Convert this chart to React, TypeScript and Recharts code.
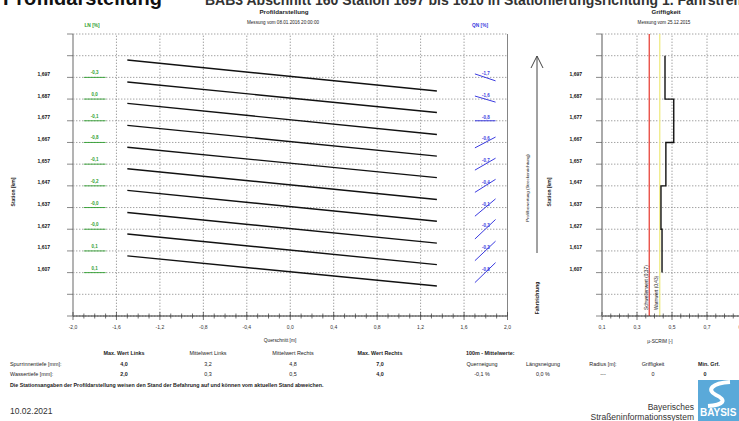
import React from 'react';
import { ComposedChart, Line, XAxis, YAxis, CartesianGrid, ReferenceLine, ReferenceDot } from 'recharts';

const FONT = '"Liberation Sans", Arial, Helvetica, sans-serif';

// ---------- data ----------
const stationLabels = ['1,697', '1,687', '1,677', '1,667', '1,657', '1,647', '1,637', '1,627', '1,617', '1,607'];
const stationRows = [11, 10, 9, 8, 7, 6, 5, 4, 3, 2];
const gridRows = [0, 1, 2, 3, 4, 5, 6, 7, 8, 9, 10, 11, 12, 13];

const crossMajor = [-2.0, -1.6, -1.2, -0.8, -0.4, 0.0, 0.4, 0.8, 1.2, 1.6, 2.0];
const crossMajorLabels = ['-2,0', '-1,6', '-1,2', '-0,8', '-0,4', '0,0', '0,4', '0,8', '1,2', '1,6', '2,0'];

// profile lines (cross section from left to right edge, height relative to station row)
const profileFromX = -1.5;
const profileToX = 1.35;
const profileLeftHeight = [0.8, 0.79, 0.8, 0.79, 0.78, 0.79, 0.79, 0.77, 0.78, 0.77];
const profileRightHeight = [-0.63, -0.62, -0.63, -0.63, -0.62, -0.63, -0.63, -0.64, -0.63, -0.62];

// LN (left) and QN (right) markers
const lnLabels = ['-0,3', '0,0', '-0,1', '-0,8', '-0,1', '-0,2', '-0,0', '-0,0', '0,1', '0,1'];
const qnLabels = ['-1,7', '-1,6', '-0,8', '-0,6', '-0,7', '-0,4', '-0,1', '-0,3', '-0,3', '-0,8'];
const qnTilt = [-0.32, -0.28, 0, 0.5, 0.55, 0.6, 0.8, 0.9, 0.9, 0.92];

// Griffigkeit
const griffMajor = [0.1, 0.3, 0.5, 0.7, 0.9];
const griffMajorLabels = ['0,1', '0,3', '0,5', '0,7', '0,9'];
const griffFrom = [12, 10, 8, 6, 4];
const griffTo = [10, 8, 6, 4, 2];
const griffValues = [0.46, 0.51, 0.465, 0.437, 0.443];
const schwellenwert = 0.37;
const warnwert = 0.43;

// table
const tableHeads = ['Max. Wert Links', 'Mittelwert Links', 'Mittelwert Rechts', 'Max. Wert Rechts'];
const spurrinnen = ['4,0', '3,2', '4,8', '7,0'];
const wassertiefe = ['2,0', '0,3', '0,5', '4,0'];
const meanHeads = ['Querneigung', 'Längsneigung', 'Radius [m]:', 'Griffigkeit'];
const meanValues = ['-0,1 %', '0,0 %', '---', '0'];

// ---------- derived ticks ----------
const crossMinor: number[] = [];
for (let i = -20; i <= 20; i++) crossMinor.push(i / 10);
const rightMinor: number[] = [];
for (let i = 0; i <= 104; i++) rightMinor.push(i / 8);
const griffMinor: number[] = [];
for (let i = 2; i <= 18; i++) griffMinor.push(i / 20);

const griffPoints: { x: number; y: number }[] = [];
griffValues.forEach((v, i) => {
  griffPoints.push({ x: v, y: griffFrom[i] });
  griffPoints.push({ x: v, y: griffTo[i] });
});

const GRID = '#8a8a8a';
const DASH = '1.4 1.6';

const majorIdx = (arr: number[], v: number) => arr.findIndex((m) => Math.abs(m - v) < 1e-6);

const CrossTick = (props: any) => {
  const { x, y, payload } = props;
  const mi = majorIdx(crossMajor, payload.value);
  const h = mi >= 0 ? 4 : 2.5;
  return (
    <g>
      <line x1={x} x2={x} y1={y - h} y2={y + h} stroke="#333" strokeWidth={0.7} />
      {mi >= 0 && (
        <text x={x} y={y + 13} textAnchor="middle" fontSize={5} fill="#333" fontFamily={FONT}>
          {crossMajorLabels[mi]}
        </text>
      )}
    </g>
  );
};

const GriffTick = (props: any) => {
  const { x, y, payload } = props;
  const mi = majorIdx(griffMajor, payload.value);
  const h = mi >= 0 ? 4 : 2.5;
  return (
    <g>
      <line x1={x} x2={x} y1={y - h} y2={y + h} stroke="#333" strokeWidth={0.7} />
      {mi >= 0 && (
        <text x={x} y={y + 13} textAnchor="middle" fontSize={5} fill="#333" fontFamily={FONT}>
          {griffMajorLabels[mi]}
        </text>
      )}
    </g>
  );
};

const makeStationTick = (gap: number) => (props: any) => {
  const { x, y, payload } = props;
  const idx = stationRows.indexOf(payload.value);
  return (
    <g>
      <line x1={x - 6} x2={x} y1={y} y2={y} stroke="#555" strokeWidth={0.7} />
      {idx >= 0 && (
        <text x={x - gap} y={y - 1.5} textAnchor="end" fontSize={5} fontWeight="bold" fill="#111" fontFamily={FONT}>
          {stationLabels[idx]}
        </text>
      )}
    </g>
  );
};

const RightTick = (props: any) => {
  const { x, y, payload } = props;
  const major = Math.abs(payload.value - Math.round(payload.value)) < 1e-6;
  return <line x1={x} x2={x + (major ? 5 : 3.5)} y1={y} y2={y} stroke="#777" strokeWidth={0.5} />;
};

const vLabel = (text: string, dx: number) => (props: any) => {
  const vb = props.viewBox || {};
  const x = vb.x ?? 0;
  const y = vb.y ?? 0;
  const h = vb.height ?? 0;
  return (
    <text
      transform={`translate(${x + dx},${y + h - 6}) rotate(-90)`}
      fontSize={4.8}
      fill="#222"
      fontFamily={FONT}
    >
      {text}
    </text>
  );
};

function MainChart() {
  return (
    <ComposedChart width={540} height={345} margin={{ top: 34, right: 22.5, bottom: 9, left: 13 }}>
      <CartesianGrid vertical={false} stroke={GRID} strokeDasharray={DASH} strokeWidth={0.8} />
      <XAxis
        type="number"
        dataKey="x"
        domain={[-2, 2]}
        ticks={crossMinor}
        interval={0}
        tickSize={0}
        tickMargin={0}
        tick={(p: any) => <CrossTick {...p} />}
        height={20}
        stroke="#333"
        allowDataOverflow
      />
      <YAxis
        type="number"
        domain={[0, 13]}
        ticks={gridRows}
        interval={0}
        tickSize={0}
        tickMargin={0}
        tick={makeStationTick(23)}
        width={60}
        stroke="#9a9a9a"
        strokeWidth={1.5}
        allowDataOverflow
      />
      <YAxis
        yAxisId="r"
        orientation="right"
        type="number"
        domain={[0, 13]}
        ticks={rightMinor}
        interval={0}
        tickSize={0}
        tickMargin={0}
        tick={(p: any) => <RightTick {...p} />}
        width={10}
        stroke="#666"
        strokeWidth={0.8}
      />
      {crossMajor.slice(1, -1).map((v) => (
        <ReferenceLine key={'g' + v} x={v} stroke={GRID} strokeDasharray={DASH} strokeWidth={0.8} />
      ))}
      {stationRows.map((k, i) => (
        <Line
          key={'p' + i}
          data={[
            { x: profileFromX, y: k + profileLeftHeight[i] },
            { x: profileToX, y: k + profileRightHeight[i] },
          ]}
          dataKey="y"
          stroke="#111"
          strokeWidth={1.4}
          dot={false}
          isAnimationActive={false}
          legendType="none"
        />
      ))}
      {stationRows.map((k, i) => (
        <Line
          key={'ln' + i}
          data={[
            { x: -1.9, y: k },
            { x: -1.7, y: k },
          ]}
          dataKey="y"
          stroke="#2f9e2f"
          strokeWidth={0.9}
          dot={false}
          isAnimationActive={false}
          legendType="none"
        />
      ))}
      {stationRows.map((k, i) => (
        <ReferenceDot
          key={'lnl' + i}
          x={-1.8}
          y={k}
          r={0}
          fill="none"
          stroke="none"
          label={{ value: lnLabels[i], position: 'top', offset: 3, fontSize: 4.5, fontWeight: 'bold', fill: '#2f9e2f', fontFamily: FONT }}
        />
      ))}
      {stationRows.map((k, i) => (
        <Line
          key={'qn' + i}
          data={[
            { x: 1.7, y: k - qnTilt[i] / 2 },
            { x: 1.89, y: k + qnTilt[i] / 2 },
          ]}
          dataKey="y"
          stroke="#3b3be0"
          strokeWidth={1}
          dot={false}
          isAnimationActive={false}
          legendType="none"
        />
      ))}
      {stationRows.map((k, i) => (
        <ReferenceDot
          key={'qnl' + i}
          x={1.8}
          y={k}
          r={0}
          fill="none"
          stroke="none"
          label={{ value: qnLabels[i], position: 'top', offset: 2, fontSize: 4.5, fontWeight: 'bold', fill: '#3b3be0', fontFamily: FONT }}
        />
      ))}
    </ComposedChart>
  );
}

function GriffChart() {
  return (
    <ComposedChart width={210} height={345} margin={{ top: 34, right: 8, bottom: 9, left: 12 }}>
      <CartesianGrid vertical={false} stroke={GRID} strokeDasharray={DASH} strokeWidth={0.8} />
      <XAxis
        type="number"
        dataKey="x"
        domain={[0.1, 0.9]}
        ticks={griffMinor}
        interval={0}
        tickSize={0}
        tickMargin={0}
        tick={(p: any) => <GriffTick {...p} />}
        height={20}
        stroke="#333"
        allowDataOverflow
      />
      <YAxis
        type="number"
        domain={[0, 13]}
        ticks={gridRows}
        interval={0}
        tickSize={0}
        tickMargin={0}
        tick={makeStationTick(20)}
        width={50}
        stroke="#aaaaaa"
        strokeWidth={2}
        allowDataOverflow
      />
      {[0.3, 0.5, 0.7].map((v) => (
        <ReferenceLine key={'gg' + v} x={v} stroke={GRID} strokeDasharray={DASH} strokeWidth={0.8} />
      ))}
      <ReferenceLine x={schwellenwert} stroke="#e8453c" strokeWidth={1.3} label={vLabel('Schwellenwert (0,37)', -1)} />
      <ReferenceLine x={warnwert} stroke="#efec86" strokeWidth={1.3} label={vLabel('Warnwert (0,43)', -1.5)} />
      <Line
        data={griffPoints}
        dataKey="y"
        stroke="#111"
        strokeWidth={1.4}
        dot={false}
        isAnimationActive={false}
        legendType="none"
      />
    </ComposedChart>
  );
}

const T = (p: any) => (
  <text fontFamily={FONT} fill="#222" fontSize={5.4} {...p}>
    {p.children}
  </text>
);

function Overlay() {
  const cols = [124, 208, 293, 380];
  const mcols = [482, 543, 603, 653];
  return (
    <svg width={739} height={421} style={{ position: 'absolute', left: 0, top: 0, pointerEvents: 'none' }}>
      {/* page title (cut off at top) */}
      <text x={3} y={5} fontFamily={FONT} fontWeight="bold" fontSize={20} fill="#111">
        Profildarstellung
      </text>
      <text x={205} y={4.5} fontFamily={FONT} fontWeight="bold" fontSize={14} fill="#333">
        BAB3 Abschnitt 160 Station 1697 bis 1610 in Stationierungsrichtung 1. Fahrstreifen
      </text>

      {/* chart titles */}
      <T x={284} y={14} textAnchor="middle" fontWeight="bold" fontSize={6.2}>Profildarstellung</T>
      <T x={283} y={24} textAnchor="middle" fontSize={4.6}>Messung vom 08.01.2016 20:00:00</T>
      <T x={666} y={14} textAnchor="middle" fontWeight="bold" fontSize={6.2}>Griffigkeit</T>
      <T x={664} y={24} textAnchor="middle" fontSize={4.6}>Messung vom 25.12.2015</T>
      <T x={92} y={27} textAnchor="middle" fontSize={4.8} fontWeight="bold" fill="#2f9e2f">LN [%]</T>
      <T x={480} y={27} textAnchor="middle" fontSize={4.8} fontWeight="bold" fill="#3b3be0">QN [%]</T>

      {/* axis titles */}
      <T x={280} y={342} textAnchor="middle" fontSize={4.8}>Querschnitt [m]</T>
      <T x={660} y={343} textAnchor="middle" fontSize={4.8}>µ-SCRIM [-]</T>
      <T transform="translate(15,192) rotate(-90)" textAnchor="middle" fontSize={5} fontWeight="bold">Station [km]</T>
      <T transform="translate(551,192) rotate(-90)" textAnchor="middle" fontSize={5} fontWeight="bold">Station [km]</T>

      {/* direction arrow */}
      <line x1={537} x2={537} y1={253} y2={56} stroke="#444" strokeWidth={1} />
      <polyline points="531,68 537,56 543,68" fill="none" stroke="#444" strokeWidth={1} />
      <T transform="translate(529,188) rotate(-90)" textAnchor="middle" fontSize={4.4}>Profilbewertung (Streckenrichtung)</T>
      <T transform="translate(539,298) rotate(-90)" textAnchor="middle" fontSize={5} fontWeight="bold">Fahrtrichtung</T>

      {/* table */}
      {tableHeads.map((h, i) => (
        <T key={'h' + i} x={cols[i]} y={355} textAnchor="middle" fontWeight={i === 0 || i === 3 ? 'bold' : 'normal'}>
          {h}
        </T>
      ))}
      <T x={466} y={355} fontWeight="bold">100m - Mittelwerte:</T>
      <T x={10} y={366}>Spurrinnentiefe [mm]:</T>
      <T x={10} y={376}>Wassertiefe [mm]:</T>
      {spurrinnen.map((v, i) => (
        <T key={'s' + i} x={cols[i]} y={366} textAnchor="middle" fontWeight={i === 0 || i === 3 ? 'bold' : 'normal'}>
          {v}
        </T>
      ))}
      {wassertiefe.map((v, i) => (
        <T key={'w' + i} x={cols[i]} y={376} textAnchor="middle" fontWeight={i === 0 || i === 3 ? 'bold' : 'normal'}>
          {v}
        </T>
      ))}
      {meanHeads.map((v, i) => (
        <T key={'mh' + i} x={mcols[i]} y={366} textAnchor="middle">
          {v}
        </T>
      ))}
      {meanValues.map((v, i) => (
        <T key={'mv' + i} x={mcols[i]} y={376} textAnchor="middle">
          {v}
        </T>
      ))}
      <T x={698} y={366} fontWeight="bold">Min. Grf.</T>
      <T x={705} y={376} textAnchor="middle" fontWeight="bold">0</T>

      <T x={10} y={387} fontWeight="bold" fontSize={5.3}>
        Die Stationsangaben der Profildarstellung weisen den Stand der Befahrung auf und können vom aktuellen Stand abweichen.
      </T>

      {/* footer */}
      <T x={10} y={414} fontSize={8.5} fill="#333">10.02.2021</T>
      <T x={694} y={410} textAnchor="end" fontSize={8.5} fill="#333">Bayerisches</T>
      <T x={694} y={420} textAnchor="end" fontSize={8.5} fill="#333">Straßeninformationssystem</T>

      {/* logo */}
      <rect x={698} y={380} width={41} height={41} fill="#5aa9d9" />
      <path d="M730,382 C712,383 706,390 716,395 C727,400 724,405 708,406" fill="none" stroke="#ffffff" strokeWidth={4} />
      <text x={700} y={416} fontFamily={FONT} fontWeight="bold" fontSize={10} fill="#ffffff">BAYSIS</text>
    </svg>
  );
}

export default function App() {
  return (
    <div
      style={{
        position: 'absolute',
        left: 0,
        top: 0,
        width: 739,
        height: 421,
        overflow: 'hidden',
        background: '#ffffff',
        fontFamily: FONT,
      }}
    >
      <div style={{ position: 'absolute', left: 0, top: 0 }}>
        <MainChart />
      </div>
      <div style={{ position: 'absolute', left: 540, top: 0 }}>
        <GriffChart />
      </div>
      <Overlay />
    </div>
  );
}
